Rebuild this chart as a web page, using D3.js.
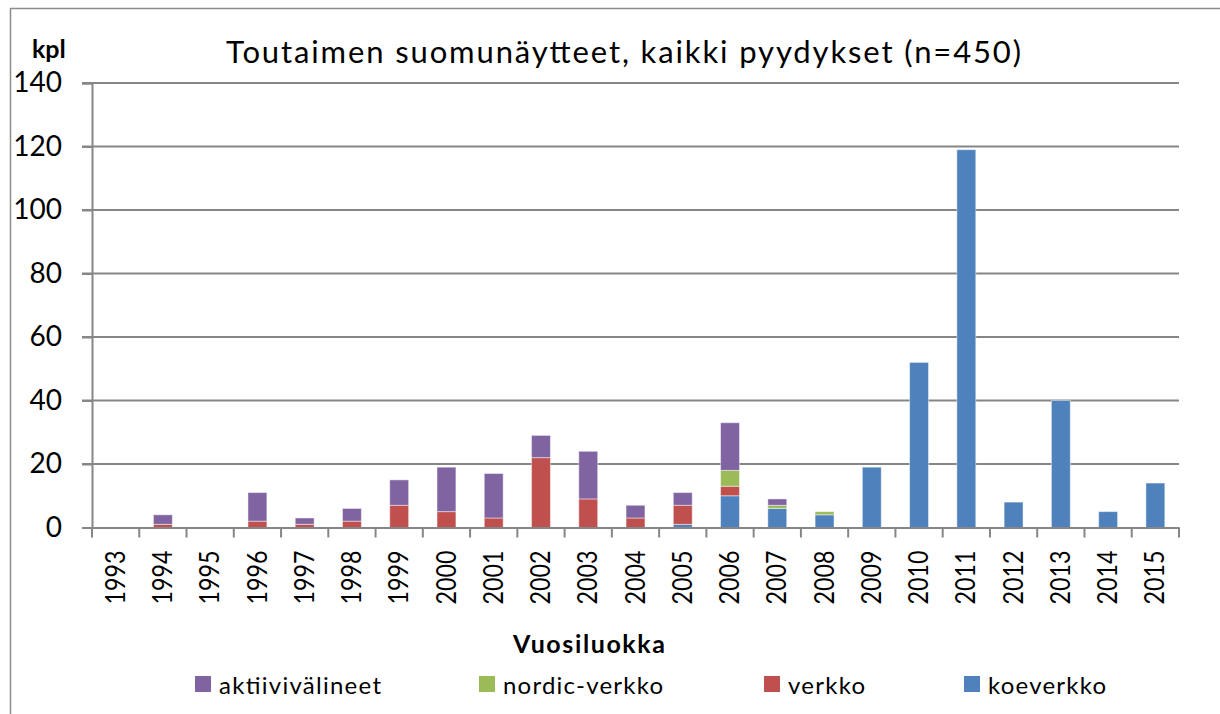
<!DOCTYPE html>
<html>
<head>
<meta charset="utf-8">
<script src="https://cdn.jsdelivr.net/npm/d3@7"></script>
<style>
  body { margin: 0; background: #fff; }
  text { font-family: Lato, "Open Sans", sans-serif; fill: #000; }
</style>
</head>
<body>
<div id="chart"></div>
<script>
// data
var years = ["1993","1994","1995","1996","1997","1998","1999","2000","2001","2002","2003","2004",
             "2005","2006","2007","2008","2009","2010","2011","2012","2013","2014","2015"];
var koeverkko       = [0,0,0,0,0,0,0,0,0,0,0,0,1,10,6,4,19,52,119,8,40,5,14];
var verkko          = [0,1,0,2,1,2,7,5,3,22,9,3,6,3,0,0,0,0,0,0,0,0,0];
var nordicVerkko    = [0,0,0,0,0,0,0,0,0,0,0,0,0,5,1,1,0,0,0,0,0,0,0];
var aktiivivalineet = [0,3,0,9,2,4,8,14,14,7,15,4,4,15,2,0,0,0,0,0,0,0,0];
var yTicks = [0,20,40,60,80,100,120,140];

var keys = ["koeverkko","verkko","nordic-verkko","aktiivivälineet"];
var legendKeys = ["aktiivivälineet","nordic-verkko","verkko","koeverkko"];

var color = d3.scaleOrdinal()
  .domain(keys)
  .range(["#4F81BD","#C0504D","#9BBB59","#8064A2"]);

var rows = years.map(function(y, i) {
  return {
    year: y,
    "koeverkko": koeverkko[i],
    "verkko": verkko[i],
    "nordic-verkko": nordicVerkko[i],
    "aktiivivälineet": aktiivivalineet[i]
  };
});
var stacked = d3.stack().keys(keys)(rows);

var W = 1220, H = 714;
var margin = { top: 83, right: 41, bottom: 186.5, left: 92 };
var width = W - margin.left - margin.right,
    height = H - margin.top - margin.bottom;

var svg = d3.select("#chart").append("svg")
  .attr("width", W)
  .attr("height", H);

// outer chart border
svg.append("rect")
  .attr("x", 10.5).attr("y", 8.5)
  .attr("width", 1300).attr("height", 800)
  .attr("fill", "none")
  .attr("stroke", "#8c8c8c")
  .attr("stroke-width", 1.5);

var g = svg.append("g")
  .attr("transform", "translate(" + margin.left + "," + margin.top + ")");

var x = d3.scaleBand()
  .domain(years)
  .range([0, width])
  .paddingInner(0.6)
  .paddingOuter(0.3);

var y = d3.scaleLinear()
  .domain([0, 140])
  .range([height, 0]);

// gridlines
g.append("g")
  .selectAll("line")
  .data(yTicks.slice(1))
  .enter().append("line")
  .attr("x1", -10).attr("x2", width)
  .attr("y1", function(d) { return y(d); })
  .attr("y2", function(d) { return y(d); })
  .attr("stroke", "#868686")
  .attr("stroke-width", 2);

// y axis
var yAxis = g.append("g")
  .call(d3.axisLeft(y).tickValues(yTicks).tickSize(10).tickPadding(20));
yAxis.select(".domain").attr("stroke", "#868686").attr("stroke-width", 2);
yAxis.selectAll(".tick line").attr("stroke", "#868686").attr("stroke-width", 2);
yAxis.selectAll(".tick text")
  .style("font-size", "28px")
  .style("font-family", "Lato, sans-serif")
  .attr("fill", "#000");

// bars
g.append("g")
  .selectAll("g")
  .data(stacked)
  .enter().append("g")
  .attr("fill", function(d) { return color(d.key); })
  .selectAll("rect")
  .data(function(d) { return d; })
  .enter().append("rect")
  .attr("x", function(d) { return x(d.data.year); })
  .attr("y", function(d) { return y(d[1]); })
  .attr("width", x.bandwidth())
  .attr("height", function(d) { return y(d[0]) - y(d[1]); })
  .attr("stroke", "#ffffff")
  .attr("stroke-opacity", 0.45)
  .attr("stroke-width", 1);

// x axis: labels at band centres, ticks at band boundaries
var xAxis = g.append("g")
  .attr("transform", "translate(0," + height + ")")
  .call(d3.axisBottom(x).tickSize(0).tickPadding(0));
xAxis.select(".domain").attr("stroke", "#868686").attr("stroke-width", 2);
xAxis.selectAll(".tick text")
  .attr("transform", "rotate(-90)")
  .attr("x", -23)
  .attr("y", 0)
  .attr("dy", "0.35em")
  .attr("text-anchor", "end")
  .attr("textLength", 54)
  .attr("lengthAdjust", "spacingAndGlyphs")
  .style("font-size", "26px")
  .style("font-family", "Lato, sans-serif")
  .attr("fill", "#000");

xAxis.append("g")
  .selectAll("line")
  .data(d3.range(years.length + 1))
  .enter().append("line")
  .attr("x1", function(i) { return i * x.step(); })
  .attr("x2", function(i) { return i * x.step(); })
  .attr("y1", 0).attr("y2", 10)
  .attr("stroke", "#868686")
  .attr("stroke-width", 2);

// title and axis titles
svg.append("text")
  .attr("x", 226).attr("y", 63)
  .attr("textLength", 795)
  .attr("lengthAdjust", "spacing")
  .style("font-size", "31px")
  .text("Toutaimen suomunäytteet, kaikki pyydykset (n=450)");

svg.append("text")
  .attr("x", 32).attr("y", 58)
  .style("font-size", "25px")
  .style("font-weight", "bold")
  .text("kpl");

svg.append("text")
  .attr("x", 513).attr("y", 653)
  .attr("textLength", 152)
  .attr("lengthAdjust", "spacing")
  .style("font-size", "25px")
  .style("font-weight", "bold")
  .text("Vuosiluokka");

// legend
var legendX = { "aktiivivälineet": 195, "nordic-verkko": 479, "verkko": 764, "koeverkko": 964 };
var legendLen = { "aktiivivälineet": 162, "nordic-verkko": 160, "verkko": 77, "koeverkko": 118 };
var size = 16;

var legend = svg.selectAll("g.legend")
  .data(legendKeys)
  .enter().append("g")
  .attr("class", "legend")
  .attr("transform", function(d) { return "translate(" + legendX[d] + ",676)"; });

legend.append("rect")
  .attr("width", size)
  .attr("height", size)
  .attr("fill", function(d) { return color(d); });

legend.append("text")
  .attr("x", size + 8)
  .attr("y", 18)
  .attr("textLength", function(d) { return legendLen[d]; })
  .attr("lengthAdjust", "spacing")
  .style("font-size", "24px")
  .text(function(d) { return d; });
</script>
</body>
</html>
